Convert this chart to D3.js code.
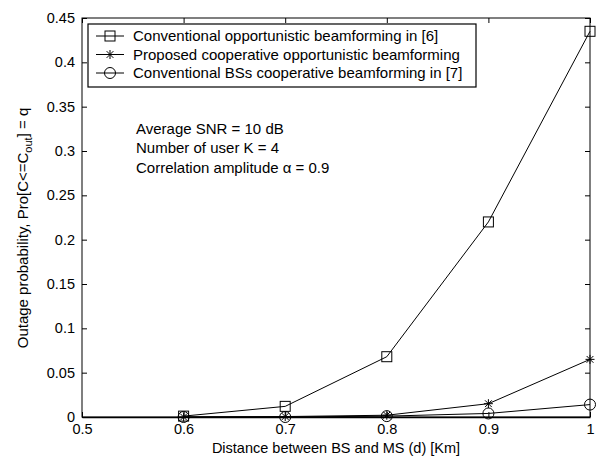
<!DOCTYPE html>
<html>
<head>
<meta charset="utf-8">
<script src="https://cdn.jsdelivr.net/npm/d3@7"></script>
<style>
  body { margin: 0; background: #fff; }
  text { font-family: "Liberation Sans", Arial, sans-serif; fill: #000; }
</style>
</head>
<body>
<svg width="608" height="459"></svg>
<script>
var distances = [0.6, 0.7, 0.8, 0.9, 1.0];
var conventionalOpp = [0.001, 0.012, 0.068, 0.220, 0.435];
var proposedCoop = [0.0, 0.0005, 0.002, 0.015, 0.065];
var conventionalBS = [0.0, 0.0, 0.001, 0.004, 0.014];

var xTicks = [0.5, 0.6, 0.7, 0.8, 0.9, 1];
var yTicks = [0, 0.05, 0.1, 0.15, 0.2, 0.25, 0.3, 0.35, 0.4, 0.45];

var seriesNames = [
  "Conventional opportunistic beamforming in [6]",
  "Proposed cooperative opportunistic beamforming",
  "Conventional BSs cooperative beamforming in [7]"
];
var notes = ["Average SNR = 10 dB", "Number of user K = 4", "Correlation amplitude \u03b1 = 0.9"];

var series = [
  {name: seriesNames[0], values: conventionalOpp, marker: "square"},
  {name: seriesNames[1], values: proposedCoop, marker: "star"},
  {name: seriesNames[2], values: conventionalBS, marker: "circle"}
];

var pLeft = 82, pRight = 590, pTop = 18, pBottom = 417;
var fs = 14.5, fsBig = 15;

var x = d3.scaleLinear().domain([0.5, 1]).range([pLeft, pRight]);
var y = d3.scaleLinear().domain([0, 0.45]).range([pBottom, pTop]);

var svg = d3.select("svg");

// box
svg.append("rect")
  .attr("x", pLeft).attr("y", pTop)
  .attr("width", pRight - pLeft).attr("height", pBottom - pTop)
  .attr("fill", "none").attr("stroke", "#000").attr("stroke-width", 1);

// axes (ticks inward)
var fmt = function(d) { return String(d); };
function styleText(g) {
  g.attr("font-size", null).attr("font-family", null);
  g.selectAll("text").attr("font-size", fs);
}
svg.append("g").attr("transform", "translate(0," + pBottom + ")")
  .call(d3.axisBottom(x).tickValues(xTicks).tickSizeInner(-5).tickSizeOuter(0).tickPadding(7).tickFormat(fmt))
  .call(function(g) { g.select(".domain").attr("stroke-width", 1.5); styleText(g); });
svg.append("g").attr("transform", "translate(" + pLeft + ",0)")
  .call(d3.axisLeft(y).tickValues(yTicks).tickSizeInner(-5).tickSizeOuter(0).tickPadding(7).tickFormat(fmt))
  .call(function(g) { g.select(".domain").remove(); styleText(g); });
svg.append("g").attr("transform", "translate(0," + pTop + ")")
  .call(d3.axisTop(x).tickValues(xTicks).tickSizeInner(-5).tickSizeOuter(0).tickFormat(""))
  .call(function(g) { g.select(".domain").remove(); });
svg.append("g").attr("transform", "translate(" + pRight + ",0)")
  .call(d3.axisRight(y).tickValues(yTicks).tickSizeInner(-5).tickSizeOuter(0).tickFormat(""))
  .call(function(g) { g.select(".domain").remove(); });

// axis titles
svg.append("text")
  .attr("x", (pLeft + pRight) / 2).attr("y", 453)
  .attr("text-anchor", "middle").attr("font-size", fs)
  .text("Distance between BS and MS (d) [Km]");

var yt = svg.append("text")
  .attr("transform", "translate(28,228) rotate(-90)")
  .attr("text-anchor", "middle").attr("font-size", fsBig);
yt.append("tspan").text("Outage probability,  Pro[C<=C");
yt.append("tspan").attr("font-size", 11).attr("dy", 4).text("out");
yt.append("tspan").attr("dy", -4).text("] = q");

// markers
function drawMarker(g, type, cx, cy) {
  if (type === "square") {
    g.append("rect").attr("x", cx - 5).attr("y", cy - 5).attr("width", 10).attr("height", 10)
      .attr("fill", "none").attr("stroke", "#000");
  } else if (type === "circle") {
    g.append("circle").attr("cx", cx).attr("cy", cy).attr("r", 5.5)
      .attr("fill", "none").attr("stroke", "#000");
  } else {
    var s = 4.5;
    var p = "M" + (cx - s) + "," + cy + "H" + (cx + s) +
      "M" + cx + "," + (cy - s) + "V" + (cy + s) +
      "M" + (cx - s * 0.75) + "," + (cy - s * 0.75) + "L" + (cx + s * 0.75) + "," + (cy + s * 0.75) +
      "M" + (cx - s * 0.75) + "," + (cy + s * 0.75) + "L" + (cx + s * 0.75) + "," + (cy - s * 0.75);
    g.append("path").attr("d", p).attr("stroke", "#000").attr("fill", "none");
  }
}

var line = d3.line().x(function(d) { return x(d[0]); }).y(function(d) { return y(d[1]); });

series.forEach(function(s) {
  var pts = distances.map(function(d, i) { return [d, s.values[i]]; });
  var g = svg.append("g");
  g.append("path").attr("d", line(pts)).attr("fill", "none").attr("stroke", "#000").attr("stroke-width", 1);
  pts.forEach(function(p) { drawMarker(g, s.marker, x(p[0]), y(p[1])); });
});

// legend
var lg = svg.append("g");
lg.append("rect").attr("x", 88).attr("y", 24).attr("width", 388).attr("height", 63)
  .attr("fill", "#fff").attr("stroke", "#000").attr("stroke-width", 1.2);
series.forEach(function(s, i) {
  var ly = 36 + i * 18.5;
  lg.append("line").attr("x1", 96).attr("x2", 124).attr("y1", ly).attr("y2", ly).attr("stroke", "#000");
  drawMarker(lg, s.marker, 110, ly);
  lg.append("text").attr("x", 133).attr("y", ly + 5).attr("font-size", fsBig).text(s.name);
});

// annotation
notes.forEach(function(t, i) {
  svg.append("text").attr("x", 136).attr("y", 133.5 + i * 19.5).attr("font-size", fsBig).text(t);
});
</script>
</body>
</html>
